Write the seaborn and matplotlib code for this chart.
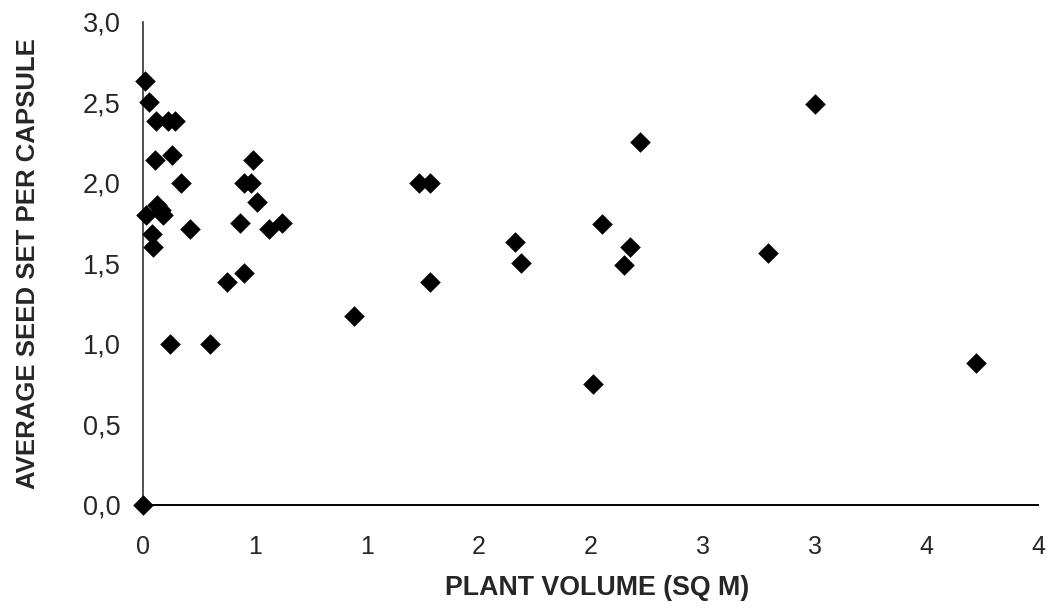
import matplotlib
matplotlib.use("Agg")
import matplotlib.pyplot as plt
import seaborn as sns
import pandas as pd
from matplotlib.ticker import FuncFormatter

# ---- data ----
plant_volume = [0.0, 0.008, 0.027, 0.057, 0.11, 0.14, 0.05, 0.13, 0.17, 0.49,
                0.45, 0.48, 0.51, 0.01, 0.06, 0.08, 0.09, 0.04, 0.045, 0.21,
                0.43, 0.56, 0.62, 1.23, 1.28, 0.375, 0.45, 1.28, 0.94, 0.12,
                0.30, 2.22, 2.05, 1.66, 1.69, 2.175, 2.15, 2.01, 3.00, 2.79, 3.72]
seed_set = [0.0, 2.63, 2.50, 2.38, 2.38, 2.38, 2.14, 2.17, 2.0, 2.14,
            2.0, 2.0, 1.88, 1.80, 1.86, 1.83, 1.80, 1.68, 1.60, 1.71,
            1.75, 1.71, 1.75, 2.0, 2.0, 1.38, 1.44, 1.38, 1.17, 1.0,
            1.0, 2.25, 1.74, 1.63, 1.50, 1.60, 1.49, 0.75, 2.49, 1.56, 0.88]
x_ticks = [0.0, 0.5, 1.0, 1.5, 2.0, 2.5, 3.0, 3.5, 4.0]
x_tick_labels = ["0", "1", "1", "2", "2", "3", "3", "4", "4"]
y_ticks = [0.0, 0.5, 1.0, 1.5, 2.0, 2.5, 3.0]

df = pd.DataFrame({"vol": plant_volume, "seed": seed_set})

sns.set_style("white")
plt.rcParams["font.family"] = ["Liberation Sans", "DejaVu Sans"]

fig = plt.figure(figsize=(10.47, 6.14), dpi=100)
ax = fig.add_axes([0.1369, 0.1783, 0.9917 - 0.1369, 0.9647 - 0.1783])

sns.scatterplot(data=df, x="vol", y="seed", ax=ax, marker="D", s=110,
                color="black", edgecolor="black", linewidth=0, clip_on=False,
                zorder=3)

ax.set_xlim(0, 4)
ax.set_ylim(0, 3)
ax.set_xticks(x_ticks)
ax.set_xticklabels(x_tick_labels, fontsize=18)
ax.set_yticks(y_ticks)
ax.yaxis.set_major_formatter(FuncFormatter(lambda v, p: f"{v:.1f}".replace(".", ",")))
for t in ax.get_yticklabels():
    t.set_fontsize(19.5)

ax.tick_params(axis="x", direction="inout", length=13.5, width=1.2, pad=15, color="black")
ax.tick_params(axis="y", direction="inout", length=13, width=1.2, pad=10, color="#222222")

for side in ["top", "right"]:
    ax.spines[side].set_visible(False)
ax.spines["bottom"].set_color("black")
ax.spines["bottom"].set_linewidth(1.4)
ax.spines["left"].set_color("#333333")
ax.spines["left"].set_linewidth(1.2)

ax.set_xlabel("PLANT VOLUME (SQ M)", fontweight="bold", fontsize=19.3)
ax.xaxis.set_label_coords(0.5075, -0.145)
ax.set_ylabel("AVERAGE SEED SET PER CAPSULE", fontweight="bold", fontsize=18.5)
ax.yaxis.set_label_coords(-0.115, 0.5)

fig.savefig("out.png", dpi=100, facecolor="white")
